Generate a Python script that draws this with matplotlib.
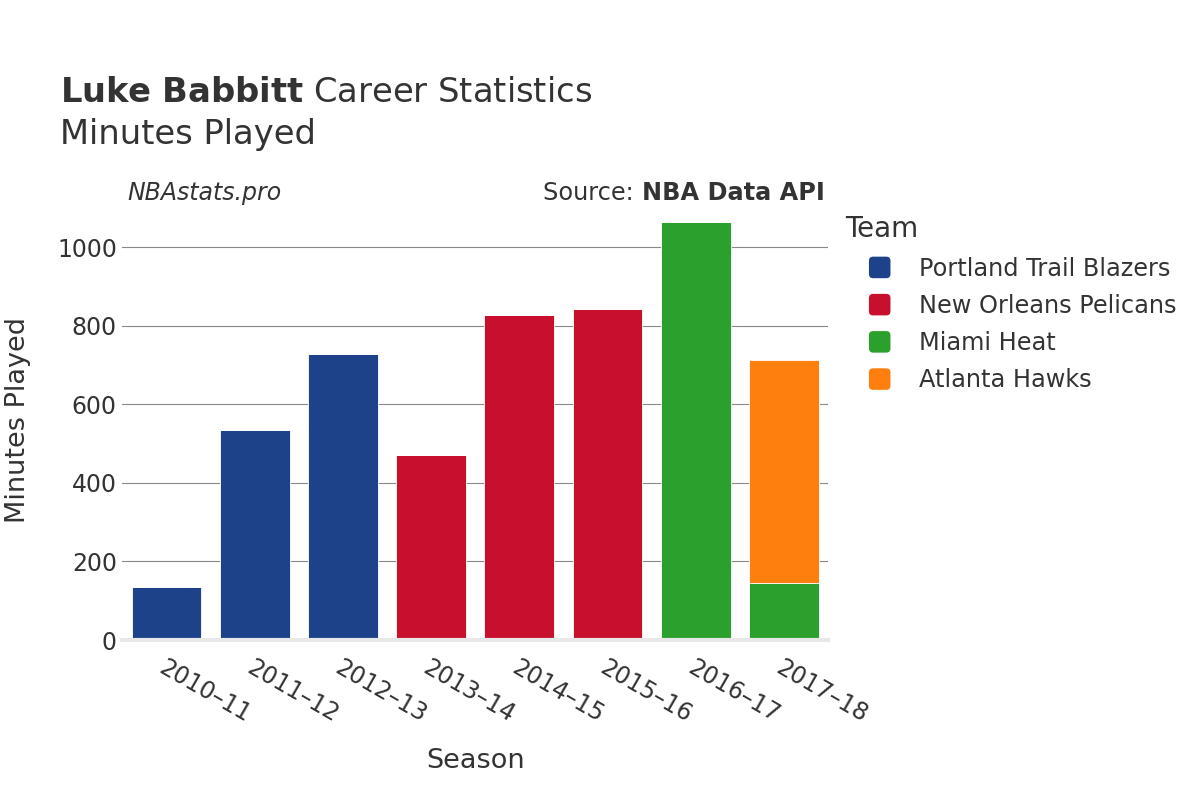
import matplotlib.pyplot as plt
import numpy as np
from matplotlib.patches import FancyBboxPatch, Rectangle
from matplotlib.legend_handler import HandlerPatch

plt.rcParams['font.family'] = ['DejaVu Sans']

seasons = ['2010–11', '2011–12', '2012–13', '2013–14', '2014–15', '2015–16', '2016–17', '2017–18']
teams = ['Portland Trail Blazers', 'New Orleans Pelicans', 'Miami Heat', 'Atlanta Hawks']
colors = ['#1d428a', '#c8102e', '#2ca02c', '#ff7f0e']
portland = [135, 535, 728, 0, 0, 0, 0, 0]
pelicans = [0, 0, 0, 471, 828, 843, 0, 0]
miami = [0, 0, 0, 0, 0, 0, 1064, 145]
atlanta = [0, 0, 0, 0, 0, 0, 0, 568]
series = [portland, pelicans, miami, atlanta]

fig = plt.figure(figsize=(12, 8), dpi=100)
ax = fig.add_axes([0.102, 0.2, 0.588, 0.55])

x = np.arange(len(seasons))
bottom = np.zeros(len(seasons))
for name, vals, c in zip(teams, series, colors):
    vals = np.array(vals, dtype=float)
    ax.bar(x, vals, 0.79, bottom=bottom, color=c, label=name, edgecolor='white', linewidth=0.6)
    bottom += vals

ax.set_xlim(-0.5, len(seasons) - 0.5)
ax.set_ylim(0, 1120)
ax.set_yticks([0, 200, 400, 600, 800, 1000])
ax.grid(axis='y', color='#888888', linewidth=0.8)
ax.set_axisbelow(True)
for s in ['top', 'right', 'left']:
    ax.spines[s].set_visible(False)
ax.spines['bottom'].set_color('#e8e8e8')
ax.spines['bottom'].set_linewidth(3)
ax.tick_params(axis='both', length=0, labelsize=17, colors='#333333')
ax.tick_params(axis='y', pad=4)
ax.set_xticks(x)
ax.set_xticklabels(seasons, rotation=-30, ha='left', rotation_mode='anchor')
ax.tick_params(axis='x', pad=11)
ax.set_xlabel('Season', fontsize=19.5, color='#333333')
ax.set_ylabel('Minutes Played', fontsize=19.5, color='#333333')
ax.xaxis.set_label_coords(0.5, -0.245)
ax.yaxis.set_label_coords(-0.129, 0.5)

fig.text(0.05, 0.873, r'$\bf{Luke\ Babbitt}$ Career Statistics', fontsize=24.3, color='#333333')
fig.text(0.05, 0.82, 'Minutes Played', fontsize=24.3, color='#333333')
fig.text(0.106, 0.75, 'NBAstats.pro', fontsize=17, style='italic', color='#333333')
src = fig.text(0.687, 0.75, 'NBA Data API', fontsize=17.3, color='#333333', ha='right', weight='bold')
fig.canvas.draw()
bb = src.get_window_extent()
fig.text(bb.x0 / fig.bbox.width, 0.75, 'Source: ', fontsize=17.3, color='#333333', ha='right')


class RoundHandler(HandlerPatch):
    def create_artists(self, legend, orig, xd, yd, width, height, fontsize, trans):
        s = 15.5
        r = 3.0
        p = FancyBboxPatch((-xd + width - s + r, -yd + (height - s) / 2 + r), s - 2 * r, s - 2 * r,
                           boxstyle='round,pad=%f,rounding_size=%f' % (r, r),
                           facecolor=orig.get_facecolor(), edgecolor='none', transform=trans)
        return [p]


handles = [Rectangle((0, 0), 1, 1, facecolor=c) for c in colors]
leg = ax.legend(handles, teams, title='Team', loc='upper left', bbox_to_anchor=(1.0, 1.003), frameon=False,
                fontsize=17.3, title_fontsize=20, handlelength=1.9, handleheight=0.9,
                handletextpad=1.2, labelspacing=0.55, alignment='left', borderaxespad=0.3,
                handler_map={Rectangle: RoundHandler()})
for t in leg.get_texts():
    t.set_color('#333333')
leg.get_title().set_color('#333333')

fig.savefig('out.png')
